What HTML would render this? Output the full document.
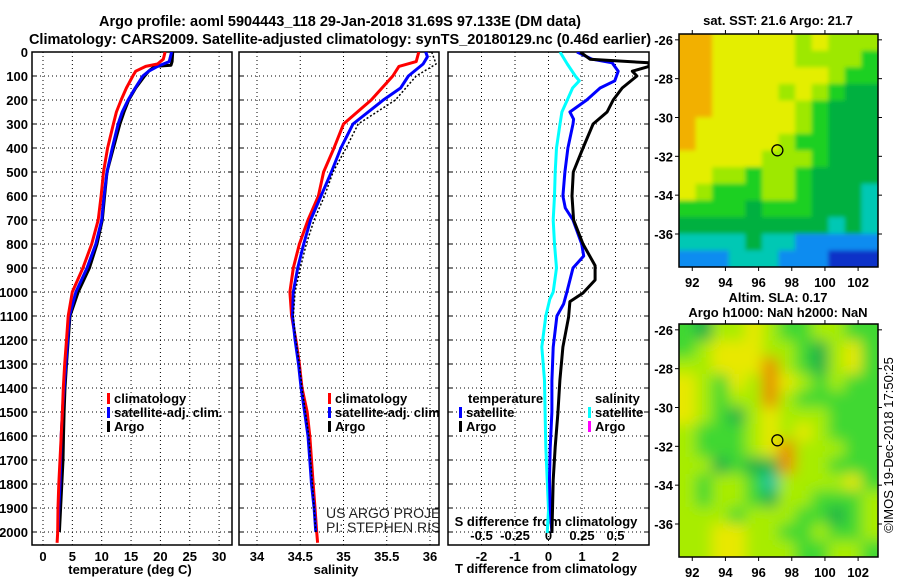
<!DOCTYPE html>
<html><head><meta charset="utf-8">
<style>
html,body{margin:0;padding:0;background:#fff;}
svg{display:block;font-family:"Liberation Sans",Arial,sans-serif;}
.t{font-weight:bold;font-size:13px;fill:#000;}
.h{font-weight:bold;font-size:14.5px;fill:#000;}
</style></head>
<body>
<svg id="c" width="900" height="580" viewBox="0 0 900 580">
<text class="h" x="340" y="26" text-anchor="middle">Argo profile: aoml 5904443_118 29-Jan-2018 31.69S 97.133E (DM data)</text>
<text class="h" x="340" y="44" text-anchor="middle">Climatology: CARS2009. Satellite-adjusted climatology: synTS_20180129.nc (0.46d earlier)</text>
<text class="t" x="778" y="25" text-anchor="middle">sat. SST: 21.6 Argo: 21.7</text>
<text class="t" x="778" y="302" text-anchor="middle">Altim. SLA: 0.17</text>
<text class="t" x="778" y="317" text-anchor="middle">Argo h1000: NaN h2000: NaN</text>
<text x="893" y="445" font-size="13" text-anchor="middle" transform="rotate(-90 893 445)">©IMOS 19-Dec-2018 17:50:25</text>
</svg>
<script>
// ---------- data ----------
const depthTicks=[0,100,200,300,400,500,600,700,800,900,1000,1100,1200,1300,1400,1500,1600,1700,1800,1900,2000];
const tempTicks=[0,5,10,15,20,25,30];
const salTicks=[34,34.5,35,35.5,36];
const salTickLabels=["34","34.5","35","35.5","36"];
const tdTicks=[-2,-1,0,1,2];
const sdTicks=[-0.5,-0.25,0,0.25,0.5];
const sdTickLabels=["-0.5","-0.25","0","0.25","0.5"];

const tClimDepth=[0,30,50,60,80,100,150,200,250,300,400,500,600,700,800,900,1000,1100,1200,1300,1400,1500,1600,1700,1800,1900,2000,2045];
const tClim=[20.8,20.5,19.5,17.5,15.8,15.3,14.2,13.3,12.5,12,11,10.3,9.9,9.4,8.3,6.8,5.0,4.3,4.0,3.7,3.45,3.3,3.1,2.9,2.7,2.55,2.5,2.4];
const tSatDepth=[0,40,60,80,100,150,200,250,300,400,500,600,700,800,900,1000,1100,1200,1300,1400,1500,1600,1700,1800,1900,2000];
const tSat=[21.9,21.5,19.5,18,17,15.7,14.5,13.5,12.8,11.8,10.9,10.4,10.0,9.0,7.5,5.6,4.5,4.2,3.9,3.6,3.3,3.1,3.0,2.9,2.7,2.55];
const tArgoDepth=[0,40,55,60,80,100,150,200,250,300,400,500,600,700,800,900,1000,1100,1200,1300,1400,1500,1600,1700,1800,1900,2000];
const tArgo=[22.1,22,21.8,19,18,17.3,15.8,14.6,13.8,13.1,12,10.9,10.5,10.1,9.2,7.9,6.0,4.6,4.3,4.0,3.75,3.6,3.5,3.4,3.2,3.0,2.8];

const sClimDepth=[0,40,60,100,200,300,400,500,600,700,800,900,1000,1100,1200,1300,1400,1500,1600,1700,1800,1900,2000,2045];
const sClim=[35.87,35.84,35.64,35.57,35.32,35.0,34.89,34.77,34.71,34.59,34.49,34.42,34.38,34.40,34.45,34.49,34.52,34.58,34.61,34.63,34.65,34.67,34.69,34.70];
const sSatDepth=[0,20,50,100,150,200,300,400,500,600,700,800,900,1000,1100,1200,1300,1400,1500,1600,1700,1800,1900,2000];
const sSat=[35.95,35.97,35.92,35.75,35.66,35.46,35.11,34.97,34.86,34.74,34.62,34.54,34.47,34.42,34.41,34.44,34.48,34.51,34.55,34.59,34.61,34.63,34.66,34.68];
const sArgoDepth=[0,50,100,200,300,400,500,600,700,800,900,1000,1100,1200,1300,1400,1500,1600,1700,1800,1900,2000];
const sArgo=[36.02,36.07,35.84,35.6,35.17,35.03,34.88,34.78,34.66,34.57,34.5,34.44,34.42,34.45,34.49,34.52,34.56,34.6,34.62,34.64,34.66,34.68];

const dTSatDepth=[0,30,45,80,120,150,200,250,280,300,400,500,600,650,700,800,850,900,1000,1050,1100,1230,1370,1500,1650,1780,1900,2004];
const dTSat=[0.85,1.3,1.9,2.08,1.98,1.54,1.14,0.64,0.75,0.73,0.58,0.49,0.43,0.5,0.73,0.99,1.05,0.73,0.55,0.45,0.25,0.14,0.1,0.1,0.05,0.03,0.05,0.1];
const dTArgoDepth=[0,30,45,60,80,100,150,200,250,300,400,500,600,700,800,890,950,1004,1040,1104,1229,1367,1504,1646,1783,1908,2004];
const dTArgo=[0.95,1.24,3.0,3.0,2.5,2.64,2.2,1.93,1.75,1.33,1.03,0.74,0.7,0.75,1.03,1.39,1.39,1.03,0.64,0.6,0.43,0.34,0.28,0.2,0.14,0.12,0.1];
const dSSatDepth=[0,50,100,120,150,200,250,300,400,500,600,700,800,900,1000,1030,1100,1229,1367,1504,1646,1783,1908,2004];
const dSSat=[0.086,0.14,0.2,0.23,0.18,0.14,0.1,0.086,0.06,0.05,0.045,0.035,0.045,0.06,0.035,0.01,-0.02,-0.05,-0.03,-0.025,-0.02,-0.01,0,-0.01];

const lonTicks=[92,94,96,98,100,102];
const latTicks=[-26,-28,-30,-32,-34,-36];
const argoLon=97.133, argoLat=-31.69;
const sstRows=[
"ooyyyyylylll","ooyyyyyllllg","ooyyyyyyylgg","ooyyyylylgdd","ooyyyyylgddd","oyyyyyylgddd","oyyyyylggddd",
"yyyyylllgddd","yyllgllgdddd","ylgggllgdddc","ggggdgggdddc","dddddddddcdc","ccccdccbbbbb","bbbcccbbbnnn"];
const slaRows=[
"gdllylggllgg","glyyyllgdlyg","llyyyolgdlyg","ylgyloylglgg","ylgllolggggg","ylgdlylllggg","lggglylylggg",
"lggglyolllgg","lldgddollggg","lgllgcllllyg","lgllgdllgggl","lllglllggdgl","llyyllgglggl","llyylllggllg"];

// ---------- drawing ----------
const NS="http://www.w3.org/2000/svg";
const svg=document.getElementById('c');
function mk(tag,at,parent){const e=document.createElementNS(NS,tag);for(const k in at)e.setAttribute(k,at[k]);(parent||svg).appendChild(e);return e;}
const yTop=52,yBot=545;
const yD=d=>yTop+d*0.24;
const xT=v=>43+v*5.87;
const xS=v=>257+(v-34)*86.5;
const xDT=v=>548.5+v*33.5;
const xDS=v=>548.5+v*134;
const panels=[[32,232],[239,439],[448,649]];

panels.forEach((p,i)=>{
  const g=mk('g',{});
  
  
  depthTicks.forEach(d=>{ if(d>0) mk('line',{x1:p[0],x2:p[1],y1:yD(d),y2:yD(d),stroke:'#000','stroke-width':1,'stroke-dasharray':'1,3'},g);
    mk('line',{x1:p[0],x2:p[0]+4,y1:yD(d),y2:yD(d),stroke:'#000'},g); mk('line',{x1:p[1]-4,x2:p[1],y1:yD(d),y2:yD(d),stroke:'#000'},g);});
  let xs = i==0?tempTicks.map(xT):i==1?salTicks.map(xS):tdTicks.map(xDT);
  xs.forEach(x=>{mk('line',{x1:x,x2:x,y1:yTop,y2:yBot,stroke:'#000','stroke-dasharray':'1,3'},g);});
  mk('rect',{x:p[0],y:yTop,width:p[1]-p[0],height:yBot-yTop,fill:'none',stroke:'#000','stroke-width':1.5},g);
});
depthTicks.forEach(d=>{
  const t=mk('text',{x:28,y:yD(d)+5,'text-anchor':'end',class:'t'});t.textContent=d;
  
  
});
function xlabels(ticks,labels,fx,y,name){ticks.forEach((v,i)=>{const t=mk('text',{x:fx(v),y:y,'text-anchor':'middle',class:'t'});t.textContent=labels[i];
  
  });}
xlabels(tempTicks,tempTicks.map(String),xT,561,'temp-tick-label');
xlabels(salTicks,salTickLabels,xS,561,'sal-tick-label');
xlabels(tdTicks,tdTicks.map(String),xDT,561,'tdiff-tick-label');
xlabels(sdTicks,sdTickLabels,xDS,540,'sdiff-tick-label');
function addLabel(x,y,s,name,anchor){const t=mk('text',{x:x,y:y,'text-anchor':anchor||'middle',class:'t'});t.textContent=s;
  
  return t;}
addLabel(130,574,'temperature (deg C)','x-axis-title-temperature');
addLabel(336,574,'salinity','x-axis-title-salinity');
addLabel(546,573,'T difference from climatology','x-axis-title-tdiff');
addLabel(546,526,'S difference from climatology','sdiff-axis-title');

function drawLine(xs,ds,fx,color,w,name,clip,dash){
  const pts=xs.map((v,i)=>fx(v).toFixed(1)+','+yD(ds[i]).toFixed(1)).join(' ');
  const at={points:pts,fill:'none',stroke:color,'stroke-width':w,'stroke-linejoin':'round'};
  if(clip)at['clip-path']='url(#'+clip+')';
  if(dash)at['stroke-dasharray']=dash;
  const e=mk('polyline',at);
  
  
}
const defs=mk('defs',{});
panels.forEach((p,i)=>{const cp=mk('clipPath',{id:'cp'+i},defs);mk('rect',{x:p[0],y:yTop,width:p[1]-p[0],height:yBot-yTop},cp);});
drawLine(tArgo,tArgoDepth,xT,'#000',3,'temp-argo-line','cp0');
drawLine(tSat,tSatDepth,xT,'#0000ff',3,'temp-satellite-line','cp0');
drawLine(tClim,tClimDepth,xT,'#ff0000',3,'temp-climatology-line','cp0');
drawLine(sClim,sClimDepth,xS,'#ff0000',3,'sal-climatology-line','cp1');
drawLine(sSat,sSatDepth,xS,'#0000ff',3,'sal-satellite-line','cp1');
drawLine(sArgo,sArgoDepth,xS,'#000',1.5,'sal-argo-line','cp1','2,2');
drawLine(dSSat,dSSatDepth,xDS,'#00ffff',3,'sdiff-satellite-line','cp2');
drawLine(dTSat,dTSatDepth,xDT,'#0000ff',3,'tdiff-satellite-line','cp2');
drawLine(dTArgo,dTArgoDepth,xDT,'#000',3,'tdiff-argo-line','cp2');

function leg(x,y,color,s,name){const g=mk('g',{});
  mk('rect',{x:x,y:y-10,width:3,height:11,fill:color},g);const t=mk('text',{x:x+7,y:y,class:'t'},g);t.textContent=s;}
leg(107,403,'#ff0000','climatology','legend-temp-climatology');
leg(107,417,'#0000ff','satellite-adj. clim.','legend-temp-satellite');
leg(107,431,'#000','Argo','legend-temp-argo');
const cl=mk('clipPath',{id:'cpl'},defs);mk('rect',{x:239,y:yTop,width:200,height:yBot-yTop},cl);
const lg2=mk('g',{'clip-path':'url(#cpl)'});
['climatology','satellite-adj. clim.','Argo'].forEach((s,i)=>{const c=['#ff0000','#0000ff','#000'][i];
  mk('rect',{x:328,y:393+14*i,width:3,height:11,fill:c},lg2);const t=mk('text',{x:335,y:403+14*i,class:'t'},lg2);t.textContent=s;
  
  });
addLabel(468,403,'temperature','legend-tdiff-title','start');
leg(459,417,'#0000ff','satellite','legend-tdiff-satellite');
leg(459,431,'#000','Argo','legend-tdiff-argo');
addLabel(595,403,'salinity','legend-sdiff-title','start');
leg(588,417,'#00ffff','satellite','legend-sdiff-satellite');
leg(588,431,'#ff00ff','Argo','legend-sdiff-argo');
const us=mk('g',{'clip-path':'url(#cpl)'});
[['US ARGO PROJECT',518],['PI: STEPHEN RISER',532]].forEach(a=>{const t=mk('text',{x:326,y:a[1],'font-size':'14',fill:'#222'},us);t.textContent=a[0];
  
  });

const pal={o:'#f2b000',y:'#e4ee00',l:'#9ee800',g:'#1ed020',d:'#00b040',c:'#00c8b4',b:'#0a8cf0',n:'#0830c8'};
const palS={o:'#e89000',y:'#e8e800',l:'#a8ec00',g:'#40d830',d:'#12b048',c:'#10c8a0',b:'#0a8cf0',n:'#0830c8'};
const mx0=679,mx1=878,lon0=91.2,lon1=103.2,lat0=-25.7,lat1=-37.7;
function drawMap(y0,y1,rows,p,name,blur){
  const g=mk('g',{});
  const cid='mc'+y0;const cp=mk('clipPath',{id:cid},defs);mk('rect',{x:mx0,y:y0,width:mx1-mx0,height:y1-y0},cp);
  const cg=mk('g',{'clip-path':'url(#'+cid+')'},g);
  let ig=cg;
  if(blur){const fid='bl'+y0;const f=mk('filter',{id:fid,x:'-10%',y:'-10%',width:'120%',height:'120%'},defs);mk('feGaussianBlur',{stdDeviation:blur},f);
    ig=mk('g',{filter:'url(#'+fid+')'},cg);}
  const nr=rows.length,nc=rows[0].length,cw=(mx1-mx0)/nc,ch=(y1-y0)/nr;
  rows.forEach((r,ri)=>{for(let ci=0;ci<nc;ci++){
    let x=mx0+ci*cw,y=y0+ri*ch,w=cw+0.5,h=ch+0.5;
    if(blur){if(ci==0){x-=15;w+=15;}if(ci==nc-1)w+=15;if(ri==0){y-=15;h+=15;}if(ri==nr-1)h+=15;}
    const c=mk('rect',{x:x,y:y,width:w,height:h,fill:p[r[ci]]},ig);
    
    }});
  const fx=v=>mx0+(v-lon0)/(lon1-lon0)*(mx1-mx0), fy=v=>y0+(v-lat0)/(lat1-lat0)*(y1-y0);
  mk('rect',{x:mx0,y:y0,width:mx1-mx0,height:y1-y0,fill:'none',stroke:'#000','stroke-width':1.5},g);
  lonTicks.forEach(v=>{mk('line',{x1:fx(v),x2:fx(v),y1:y0,y2:y0-4,stroke:'#000'},g);mk('line',{x1:fx(v),x2:fx(v),y1:y1,y2:y1+4,stroke:'#000'},g);
    const t=mk('text',{x:fx(v),y:y1+20,'text-anchor':'middle',class:'t'},g);t.textContent=v;});
  latTicks.forEach(v=>{mk('line',{x1:mx0,x2:mx0-4,y1:fy(v),y2:fy(v),stroke:'#000'},g);mk('line',{x1:mx1,x2:mx1+4,y1:fy(v),y2:fy(v),stroke:'#000'},g);
    const t=mk('text',{x:673,y:fy(v)+5,'text-anchor':'end',class:'t'},g);t.textContent=v;});
  const m=mk('circle',{cx:fx(argoLon),cy:fy(argoLat),r:5.5,fill:'none',stroke:'#000','stroke-width':1.3},g);
  
  
}
drawMap(34,267,sstRows,pal,'sst-map',2);
drawMap(324,557,slaRows,palS,'sla-map',7);
</script>
</body></html>
